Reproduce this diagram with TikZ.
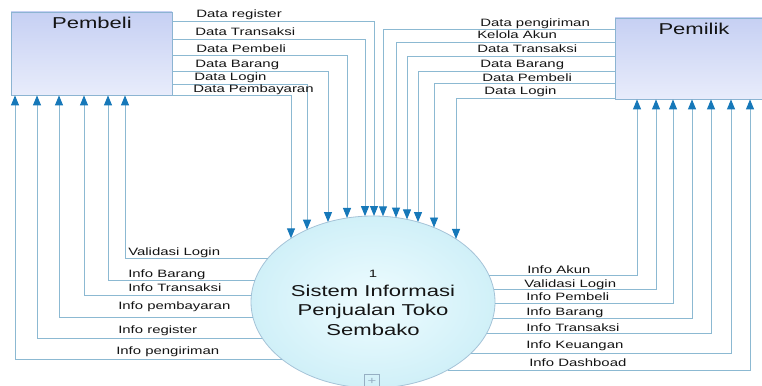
\documentclass[tikz,border=0pt]{standalone}
\usepackage{fontspec}
\setmainfont{Liberation Sans}[FakeStretch=1.4]
\usetikzlibrary{arrows.meta,shapes.geometric}
\definecolor{linec}{RGB}{140,185,210}
\definecolor{arrc}{RGB}{22,120,185}
\definecolor{boxA}{RGB}{198,208,243}
\definecolor{boxB}{RGB}{232,236,251}
\definecolor{boxD}{RGB}{140,180,210}
\definecolor{ellIn}{RGB}{238,252,255}
\definecolor{ellOut}{RGB}{208,240,248}
\definecolor{ellD}{RGB}{165,195,215}
\definecolor{plusc}{RGB}{150,175,195}
\definecolor{txt}{RGB}{20,20,20}
\begin{document}
\begin{tikzpicture}[x=0.75pt,y=-0.75pt,
  declare function={
    ety(\x)=302-86*sqrt(1-(\x-373)*(\x-373)/14884);
    elx(\y)=373-122*sqrt(1-(\y-302)*(\y-302)/7396);
    erx(\y)=373+122*sqrt(1-(\y-302)*(\y-302)/7396);},
  flow/.style={draw=linec, line width=0.7pt, -{Triangle[length=7.5pt,width=6pt,color=arrc]}},
  lbl/.style={anchor=base west, inner sep=0, text=txt, font=\fontsize{8}{9}\selectfont},
  ttl/.style={anchor=base, inner sep=0, text=txt, font=\fontsize{11.8}{13}\selectfont},
  entity/.style={draw=boxD, line width=0.6pt, top color=boxA, bottom color=boxB, inner sep=0},
  procs/.style={ellipse, draw=ellD, line width=0.6pt, inner color=ellIn, outer color=ellOut, inner sep=0, minimum width=183pt, minimum height=129pt}
]
\useasboundingbox (0,0) rectangle (762,385);

% entities and process
\node[entity, minimum width=120.75pt, minimum height=62.25pt] (pembeli) at (91.5,53.5) {};
\node[entity, minimum width=120.75pt, minimum height=60.75pt] (pemilik) at (695.5,58.5) {};
\node[ttl] (pembeliT) at (92,28.5) {Pembeli};
\node[ttl] (pemilikT) at (694,35) {Pemilik};
\node[procs] (proc) at (373,302) {};
\node[anchor=base, inner sep=0, text=txt, font=\fontsize{8}{9}\selectfont] (pnum) at (373,277) {1};
\node[ttl] (p1) at (373,296) {Sistem Informasi};
\node[ttl] (p2) at (373,315.5) {Penjualan Toko};
\node[ttl] (p3) at (373,335) {Sembako};
\node[draw=plusc, line width=0.5pt, minimum size=11pt, inner sep=0, text=plusc, font=\fontsize{8}{8}\selectfont] (plus) at (372,381.5) {+};

% points on the process boundary (top)
\coordinate (tA) at (374,{ety(374)});
\coordinate (tB) at (365,{ety(365)});
\coordinate (tC) at (347,{ety(347)});
\coordinate (tD) at (328,{ety(328)});
\coordinate (tE) at (307,{ety(307)});
\coordinate (tF) at (291,{ety(291)});
\coordinate (uA) at (383,{ety(383)});
\coordinate (uB) at (396,{ety(396)});
\coordinate (uC) at (407,{ety(407)});
\coordinate (uD) at (418,{ety(418)});
\coordinate (uE) at (434,{ety(434)});
\coordinate (uF) at (456,{ety(456)});
% points on the process boundary (left / right)
\coordinate (lA) at ({elx(258)},258);
\coordinate (lB) at ({elx(280)},280);
\coordinate (lC) at ({elx(295)},295);
\coordinate (lD) at ({elx(317)},317);
\coordinate (lE) at ({elx(338)},338);
\coordinate (lF) at ({elx(359)},359);
\coordinate (rA) at ({erx(275)},275);
\coordinate (rB) at ({erx(289)},289);
\coordinate (rC) at ({erx(303)},303);
\coordinate (rD) at ({erx(318)},318);
\coordinate (rE) at ({erx(333)},333);
\coordinate (rF) at ({erx(353)},353);
\coordinate (rG) at ({erx(370)},370);

% Pembeli -> process
\draw[flow] (pembeli.east |- 0,21) -| (tA);
\draw[flow] (pembeli.east |- 0,39) -| (tB);
\draw[flow] (pembeli.east |- 0,55) -| (tC);
\draw[flow] (pembeli.east |- 0,71) -| (tD);
\draw[flow] (pembeli.east |- 0,84) -| (tE);
\draw[flow] (pembeli.east |- 0,95.5) -| (tF);
% Pemilik -> process
\draw[flow] (pemilik.west |- 0,29) -| (uA);
\draw[flow] (pemilik.west |- 0,42) -| (uB);
\draw[flow] (pemilik.west |- 0,56) -| (uC);
\draw[flow] (pemilik.west |- 0,71) -| (uD);
\draw[flow] (pemilik.west |- 0,83) -| (uE);
\draw[flow] (pemilik.west |- 0,98) -| (uF);
% process -> Pembeli
\draw[flow] (lA) -| (pembeli.south -| 125,0);
\draw[flow] (lB) -| (pembeli.south -| 108,0);
\draw[flow] (lC) -| (pembeli.south -| 84,0);
\draw[flow] (lD) -| (pembeli.south -| 59,0);
\draw[flow] (lE) -| (pembeli.south -| 37,0);
\draw[flow] (lF) -| (pembeli.south -| 15,0);
% process -> Pemilik
\draw[flow] (rA) -| (pemilik.south -| 637,0);
\draw[flow] (rB) -| (pemilik.south -| 656,0);
\draw[flow] (rC) -| (pemilik.south -| 673,0);
\draw[flow] (rD) -| (pemilik.south -| 692,0);
\draw[flow] (rE) -| (pemilik.south -| 711,0);
\draw[flow] (rF) -| (pemilik.south -| 731,0);
\draw[flow] (rG) -| (pemilik.south -| 750,0);

% labels top-left
\node[lbl] (a1) at (196,18) {Data register};
\node[lbl] (a2) at (195,35.5) {Data Transaksi};
\node[lbl] (a3) at (196,52) {Data Pembeli};
\node[lbl] (a4) at (195,67) {Data Barang};
\node[lbl] (a5) at (194,80.5) {Data Login};
\node[lbl] (a6) at (193,92.5) {Data Pembayaran};
% labels top-right
\node[lbl] (b1) at (480,27) {Data pengiriman};
\node[lbl] (b2) at (477,39) {Kelola Akun};
\node[lbl] (b3) at (477,53) {Data Transaksi};
\node[lbl] (b4) at (480,67) {Data Barang};
\node[lbl] (b5) at (482,81) {Data Pembeli};
\node[lbl] (b6) at (484,94) {Data Login};
% labels bottom-left
\node[lbl] (c1) at (128,255) {Validasi Login};
\node[lbl] (c2) at (128,277) {Info Barang};
\node[lbl] (c3) at (128,291) {Info Transaksi};
\node[lbl] (c4) at (118,309) {Info pembayaran};
\node[lbl] (c5) at (118,333) {Info register};
\node[lbl] (c6) at (116,354) {Info pengiriman};
% labels bottom-right
\node[lbl] (d1) at (527,273) {Info Akun};
\node[lbl] (d2) at (524,287) {Validasi Login};
\node[lbl] (d3) at (526,300) {Info Pembeli};
\node[lbl] (d4) at (526,315) {Info Barang};
\node[lbl] (d5) at (526,331) {Info Transaksi};
\node[lbl] (d6) at (526,348) {Info Keuangan};
\node[lbl] (d7) at (529,366) {Info Dashboad};
\end{tikzpicture}
\end{document}
